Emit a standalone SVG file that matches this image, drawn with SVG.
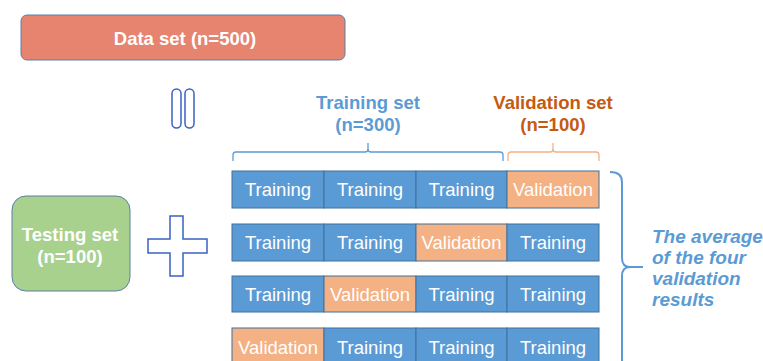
<svg xmlns="http://www.w3.org/2000/svg" width="763" height="361" viewBox="0 0 763 361">
<style>
.t{font-family:"Liberation Sans",Arial,sans-serif}
.cell{stroke:#41719c;stroke-width:1}
.tr{fill:#5b9bd5}
.va{fill:#f4b183}
.ct{font-family:"Liberation Sans",Arial,sans-serif;font-size:18.5px;fill:#fff;text-anchor:middle}
.hb{font-family:"Liberation Sans",Arial,sans-serif;font-weight:bold;font-size:18.5px;text-anchor:middle}
</style>
<rect width="763" height="361" fill="#fff"/>
<g id="dataset">
<rect x="21" y="15" width="324" height="45" rx="6" fill="#e6846f" stroke="#5a7ea6" stroke-width="1"/>
<text class="hb" x="185" y="45" fill="#fff">Data set (n=500)</text>
</g>
<g id="equals">
<rect x="172" y="89" width="9" height="39" rx="4.5" fill="#fff" stroke="#3a62c4" stroke-width="1.5"/>
<rect x="185" y="89" width="9" height="39" rx="4.5" fill="#fff" stroke="#3a62c4" stroke-width="1.5"/>
</g>
<g id="testing">
<rect x="12" y="196" width="118" height="95" rx="14" fill="#a9d18e" stroke="#5a7ea6" stroke-width="1"/>
<text class="hb" x="70" y="241" fill="#fff">Testing set</text>
<text class="hb" x="70" y="263" fill="#fff">(n=100)</text>
</g>
<g id="plus">
<path d="M170 216 H183 V239 H207 V253 H183 V276 H170 V253 H148 V239 H170 Z" fill="#fff" stroke="#3a62c4" stroke-width="1.5"/>
</g>
<g id="training-label">
<text class="hb" x="368" y="109" fill="#5b9bd5">Training set</text>
<text class="hb" x="368" y="131" fill="#5b9bd5">(n=300)</text>
</g>
<g id="validation-label">
<text class="hb" x="553" y="109" fill="#c55a11">Validation set</text>
<text class="hb" x="553" y="131" fill="#c55a11">(n=100)</text>
</g>
<g id="connectors" fill="none" stroke-width="1.3">
<path d="M233 161 V155 Q233 152 236 152 H365 Q368 152 368 149 V143 M368 149 Q368 152 371 152 H500 Q503 152 503 155 V161" stroke="#5b9bd5"/>
<path d="M508 161 V155 Q508 152 511 152 H550 Q553 152 553 149 V143 M553 149 Q553 152 556 152 H596 Q599 152 599 155 V161" stroke="#f4b183"/>
<path d="M610 172 Q622 172 622 182 V258 Q622 267 630 267 H643 M630 267 Q622 267 622 276 V361" stroke="#5b9bd5" stroke-width="2"/>
</g>
<g id="row1">
<rect class="cell tr" x="232" y="171" width="92" height="37"/>
<rect class="cell tr" x="324" y="171" width="92" height="37"/>
<rect class="cell tr" x="416" y="171" width="91" height="37"/>
<rect class="cell va" x="507" y="171" width="92" height="37"/>
<text class="ct" x="278" y="196">Training</text>
<text class="ct" x="370" y="196">Training</text>
<text class="ct" x="461.5" y="196">Training</text>
<text class="ct" x="553" y="196">Validation</text>
</g>
<g id="row2">
<rect class="cell tr" x="232" y="224" width="92" height="37"/>
<rect class="cell tr" x="324" y="224" width="92" height="37"/>
<rect class="cell va" x="416" y="224" width="91" height="37"/>
<rect class="cell tr" x="507" y="224" width="92" height="37"/>
<text class="ct" x="278" y="249">Training</text>
<text class="ct" x="370" y="249">Training</text>
<text class="ct" x="461.5" y="249">Validation</text>
<text class="ct" x="553" y="249">Training</text>
</g>
<g id="row3">
<rect class="cell tr" x="232" y="276" width="92" height="36"/>
<rect class="cell va" x="324" y="276" width="92" height="36"/>
<rect class="cell tr" x="416" y="276" width="91" height="36"/>
<rect class="cell tr" x="507" y="276" width="92" height="36"/>
<text class="ct" x="278" y="301">Training</text>
<text class="ct" x="370" y="301">Validation</text>
<text class="ct" x="461.5" y="301">Training</text>
<text class="ct" x="553" y="301">Training</text>
</g>
<g id="row4">
<rect class="cell va" x="232" y="328" width="92" height="37"/>
<rect class="cell tr" x="324" y="328" width="92" height="37"/>
<rect class="cell tr" x="416" y="328" width="91" height="37"/>
<rect class="cell tr" x="507" y="328" width="92" height="37"/>
<text class="ct" x="278" y="354">Validation</text>
<text class="ct" x="370" y="354">Training</text>
<text class="ct" x="461.5" y="354">Training</text>
<text class="ct" x="553" y="354">Training</text>
</g>
<g id="average-label" class="t" font-weight="bold" font-style="italic" font-size="19" fill="#5b9bd5">
<text x="652" y="243">The average</text>
<text x="652" y="264">of the four</text>
<text x="652" y="285">validation</text>
<text x="652" y="306">results</text>
</g>
</svg>
